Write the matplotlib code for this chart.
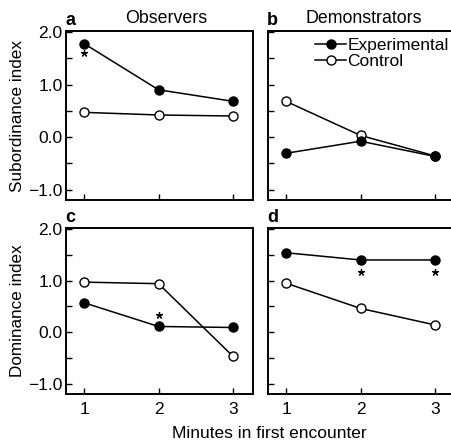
import numpy as np
import matplotlib
matplotlib.use('Agg')
import matplotlib.pyplot as plt
from matplotlib.ticker import MultipleLocator, FuncFormatter

plt.rcParams['font.family'] = ['Liberation Sans', 'DejaVu Sans']

minutes = [1, 2, 3]

# subordinance index (top row)
obs_sub_exp = [1.78, 0.90, 0.68]
obs_sub_ctl = [0.47, 0.42, 0.40]
dem_sub_exp = [-0.31, -0.08, -0.37]
dem_sub_ctl = [0.68, 0.03, -0.36]

# dominance index (bottom row)
obs_dom_exp = [0.57, 0.11, 0.09]
obs_dom_ctl = [0.97, 0.94, -0.47]
dem_dom_exp = [1.54, 1.40, 1.40]
dem_dom_ctl = [0.95, 0.46, 0.14]

# significance stars (x, y)
stars_a = [(1, 1.60)]
stars_c = [(2, 0.33)]
stars_d = [(2, 1.16), (3, 1.16)]

W, H = 452, 443
fig = plt.figure(figsize=(W / 100, H / 100), dpi=100)


def px_axes(left, top, right, bottom):
    return fig.add_axes([left / W, 1 - bottom / H, (right - left) / W, (bottom - top) / H])


ax_a = px_axes(66, 31, 253, 200)
ax_b = px_axes(268, 31, 455, 200)
ax_c = px_axes(66, 228, 253, 394)
ax_d = px_axes(268, 228, 455, 394)

panels = [
    (ax_a, obs_sub_exp, obs_sub_ctl, 'a', stars_a),
    (ax_b, dem_sub_exp, dem_sub_ctl, 'b', []),
    (ax_c, obs_dom_exp, obs_dom_ctl, 'c', stars_c),
    (ax_d, dem_dom_exp, dem_dom_ctl, 'd', stars_d),
]

for ax, exp, ctl, letter, stars in panels:
    ax.plot(minutes, ctl, '-o', color='black', lw=1.1, ms=6.5,
            mfc='white', mec='black', mew=1.0, label='Control', zorder=3)
    ax.plot(minutes, exp, '-o', color='black', lw=1.1, ms=6.5,
            mfc='black', mec='black', mew=1.0, label='Experimental', zorder=4)
    if stars:
        sx, sy = zip(*stars)
        ax.plot(sx, sy, ls='none', marker=(5, 2, 0), ms=5, mew=0.9, color='black', zorder=5)
    ax.set_xlim(0.758, 3.268)
    ax.set_ylim(-1.2, 2.02)
    ax.set_xticks(minutes)
    ax.yaxis.set_major_locator(MultipleLocator(1.0))
    ax.yaxis.set_minor_locator(MultipleLocator(0.5))
    ax.tick_params(direction='in', length=4, width=1.0, labelsize=12.5)
    ax.tick_params(axis='y', pad=2.5)
    ax.tick_params(axis='x', pad=6)
    ax.tick_params(which='minor', direction='in', length=4, width=1.0)
    for s in ax.spines.values():
        s.set_linewidth(1.4)
    ax.text(-0.005, 1.01, letter, transform=ax.transAxes, ha='left', va='bottom',
            fontsize=13, fontweight='bold')

for ax in (ax_a, ax_c):
    ax.yaxis.set_major_formatter(FuncFormatter(lambda v, p: f'{v:.1f}'.replace('-', '\u2212')))

for ax in (ax_b, ax_d):
    ax.tick_params(labelleft=False)
for ax in (ax_a, ax_b):
    ax.tick_params(labelbottom=False)

ax_a.text(0.535, 1.025, 'Observers', transform=ax_a.transAxes, ha='center', va='bottom', fontsize=12.8)
ax_b.text(0.51, 1.025, 'Demonstrators', transform=ax_b.transAxes, ha='center', va='bottom', fontsize=12.8)

ax_a.set_ylabel('Subordinance index', fontsize=12.3, labelpad=2)
ax_c.set_ylabel('Dominance index', fontsize=12.3, labelpad=2)
fig.text(269 / W, 1 - 433 / H, 'Minutes in first encounter', ha='center', va='center', fontsize=12.5)

h, l = ax_b.get_legend_handles_labels()
ax_b.legend(h[::-1], l[::-1], loc='upper left', bbox_to_anchor=(0.235, 0.978), frameon=False,
            fontsize=12.5, handlelength=1.75, handletextpad=0.1, labelspacing=0.05,
            borderpad=0.2, borderaxespad=0.0)

fig.savefig('out.png', dpi=100)
